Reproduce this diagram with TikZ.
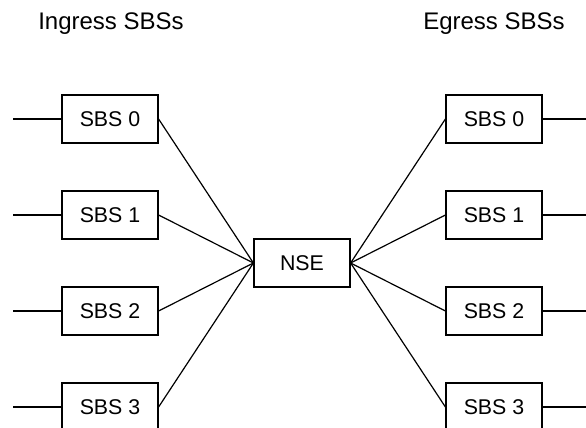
\documentclass[tikz,border=0pt]{standalone}
\usepackage{fontspec}
\setmainfont{Liberation Sans}
\usepackage{tikz}

\tikzset{
  sbsbox/.style={draw, line width=0.9pt, minimum width=72pt, minimum height=36pt, inner sep=0pt, font=\fontsize{16}{19}\selectfont},
  wire/.style={line width=0.9pt},
  heading/.style={inner sep=0pt, anchor=base, font=\fontsize{18}{21}\selectfont}
}

\begin{document}
\begin{tikzpicture}[x=0.75pt,y=0.75pt,yscale=-1,xscale=1]

\useasboundingbox (0,0) rectangle (586,428);

\node [heading] (ingress) at (111,30) {Ingress SBSs};
\node [heading] (egress) at (494,30) {Egress SBSs};

\node [sbsbox] (nse) at (302,263) {NSE};

\foreach \i in {0,...,3} {
  \node [sbsbox] (in\i) at (110,119+96*\i) {SBS \i};
  \node [sbsbox] (out\i) at (494,119+96*\i) {SBS \i};
  \coordinate (inend\i) at (13,119+96*\i);
  \coordinate (outend\i) at (586,119+96*\i);
  \draw [wire] (inend\i) -- (in\i.west);
  \draw [wire] (out\i.east) -- (outend\i);
  \draw [wire] (in\i.east) -- (nse.west);
  \draw [wire] (nse.east) -- (out\i.west);
}

\end{tikzpicture}
\end{document}
